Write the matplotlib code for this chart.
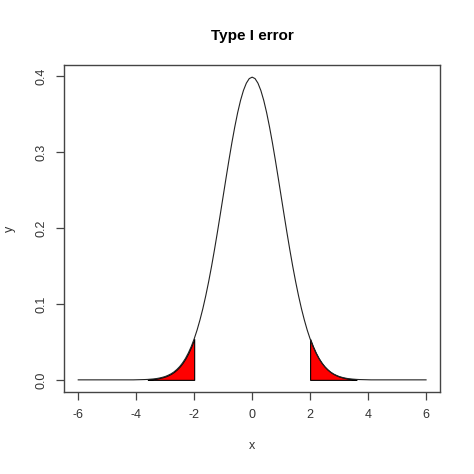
import matplotlib.pyplot as plt
import numpy as np

plt.rcParams['font.family'] = ['Liberation Sans', 'DejaVu Sans']

# x grid (step 0.1) and density heights
x = np.arange(-60, 61) / 10.0
y_pos = [0.3989, 0.3970, 0.3910, 0.3814, 0.3683, 0.3521, 0.3332, 0.3123, 0.2897, 0.2661,
         0.2420, 0.2179, 0.1942, 0.1714, 0.1497, 0.1295, 0.1109, 0.0940, 0.0790, 0.0656,
         0.0540, 0.0440, 0.0355, 0.0283, 0.0224, 0.0175, 0.0136, 0.0104, 0.0079, 0.0060,
         0.0044, 0.0033, 0.0024, 0.0017, 0.0012, 0.0009, 0.0006, 0.0004, 0.0003, 0.0002,
         0.0001, 0.0000, 0.0000, 0.0000, 0.0000, 0.0000, 0.0000, 0.0000, 0.0000, 0.0000,
         0.0000, 0.0000, 0.0000, 0.0000, 0.0000, 0.0000, 0.0000, 0.0000, 0.0000, 0.0000,
         0.0000]
y_neg = [0.0000, 0.0000, 0.0000, 0.0000, 0.0000, 0.0000, 0.0000, 0.0000, 0.0000, 0.0000,
         0.0000, 0.0000, 0.0000, 0.0000, 0.0000, 0.0000, 0.0000, 0.0000, 0.0000, 0.0000,
         0.0001, 0.0002, 0.0003, 0.0004, 0.0006, 0.0009, 0.0012, 0.0017, 0.0024, 0.0033,
         0.0044, 0.0060, 0.0079, 0.0104, 0.0136, 0.0175, 0.0224, 0.0283, 0.0355, 0.0440,
         0.0540, 0.0656, 0.0790, 0.0940, 0.1109, 0.1295, 0.1497, 0.1714, 0.1942, 0.2179,
         0.2420, 0.2661, 0.2897, 0.3123, 0.3332, 0.3521, 0.3683, 0.3814, 0.3910, 0.3970]
y = np.array(y_neg + y_pos)

crit = 2.0      # rejection boundary
tail_end = 3.6  # where the shading stops being visible

xticks = [-6, -4, -2, 0, 2, 4, 6]
yticks = [0.0, 0.1, 0.2, 0.3, 0.4]

fig = plt.figure(figsize=(4.74, 4.74), dpi=100)
ax = fig.add_axes([0.1357, 0.173, 0.7925, 0.69])

ax.plot(x, y, color='#222222', lw=0.8)

left = (x >= -tail_end - 1e-9) & (x <= -crit + 1e-9)
right = (x >= crit - 1e-9) & (x <= tail_end + 1e-9)
for m in (left, right):
    ax.fill_between(x[m], 0, y[m], facecolor='red', edgecolor='black', lw=0.8)

ax.set_xlim(-6.48, 6.48)
ax.set_ylim(-0.016, 0.415)
ax.set_xticks(xticks)
ax.set_xticklabels([str(t) for t in xticks])
ax.set_yticks(yticks)
ax.set_yticklabels([f"{t:.1f}" for t in yticks], rotation=90, va='center')

for s in ax.spines.values():
    s.set_color('#444444')
    s.set_linewidth(1.0)
ax.tick_params(direction='out', length=6, width=0.9, color='#444444',
               labelsize=9, labelcolor='#333333', pad=6)

ax.set_xlabel("x", fontsize=9, color='#333333', labelpad=14)
ax.set_ylabel("y", fontsize=9, color='#333333', labelpad=14)
ax.set_title("Type I error", fontsize=11, fontweight='bold', pad=18)

fig.savefig("out.png", dpi=100)
